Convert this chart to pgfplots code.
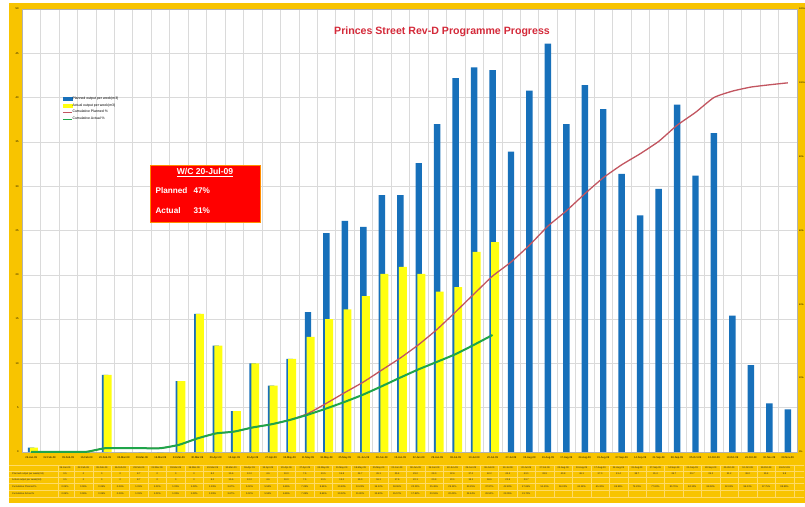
\documentclass[border=0pt]{standalone}
\usepackage{fontspec}
\setmainfont{Liberation Sans}
\usepackage{pgfplots}
\pgfplotsset{compat=1.18}
\usepackage{pgfplotstable}

\definecolor{gold}{HTML}{F8C400}
\definecolor{goldline}{HTML}{FFDB66}
\definecolor{xlblue}{HTML}{1770BA}
\definecolor{xlyellow}{HTML}{FFFF10}
\definecolor{xlred}{HTML}{C25560}
\definecolor{xlgreen}{HTML}{1FA54A}
\definecolor{gridc}{HTML}{DADADA}
\definecolor{titlered}{HTML}{D42A3A}
\definecolor{boxred}{HTML}{FF0000}
\definecolor{boxedge}{HTML}{FF8C00}

\pgfplotstableread{
i date planned actual cumplan cumact
0 26-Jan-09 0.5 0.5 0.06 0.06
1 02-Feb-09 0 0 0.06 0.06
2 09-Feb-09 0 0 0.06 0.06
3 16-Feb-09 0 0 0.06 0.06
4 23-Feb-09 8.7 8.7 1.03 1.03
5 02-Mar-09 0 0 1.03 1.03
6 09-Mar-09 0 0 1.03 1.03
7 16-Mar-09 0 0 1.03 1.03
8 23-Mar-09 8.0 8.0 1.93 1.93
9 30-Mar-09 15.6 15.6 3.67 3.67
10 06-Apr-09 12.0 12.0 5.02 5.02
11 13-Apr-09 4.6 4.6 5.53 5.53
12 20-Apr-09 10.0 10.0 6.65 6.65
13 27-Apr-09 7.5 7.5 7.49 7.49
14 04-May-09 10.5 10.5 8.66 8.66
15 11-May-09 15.8 13.0 10.43 10.12
16 18-May-09 24.7 15.0 13.20 11.80
17 25-May-09 26.1 16.1 16.12 13.60
18 01-Jun-09 25.4 17.6 18.96 15.57
19 08-Jun-09 29.0 20.1 22.21 17.82
20 15-Jun-09 29.0 20.9 25.46 20.16
21 22-Jun-09 32.6 20.1 29.11 22.41
22 29-Jun-09 37.0 18.1 33.25 24.44
23 06-Jul-09 42.2 18.6 37.97 26.52
24 13-Jul-09 43.4 22.6 42.83 29.05
25 20-Jul-09 43.1 23.7 47.65 31.70
26 27-Jul-09 33.9 nan 51.45 nan
27 03-Aug-09 40.8 nan 56.02 nan
28 10-Aug-09 46.1 nan 61.18 nan
29 17-Aug-09 37.0 nan 65.32 nan
30 24-Aug-09 41.4 nan 69.95 nan
31 31-Aug-09 38.7 nan 74.29 nan
32 07-Sep-09 31.4 nan 77.80 nan
33 14-Sep-09 26.7 nan 80.79 nan
34 21-Sep-09 29.7 nan 84.12 nan
35 28-Sep-09 39.2 nan 88.50 nan
36 05-Oct-09 31.2 nan 92.00 nan
37 12-Oct-09 36.0 nan 96.03 nan
38 19-Oct-09 15.4 nan 97.75 nan
39 26-Oct-09 9.8 nan 98.85 nan
40 02-Nov-09 5.5 nan 99.46 nan
41 09-Nov-09 4.8 nan 100.00 nan
}\data

\begin{document}
\begin{tikzpicture}
\useasboundingbox (0pt,0pt) rectangle (805pt,506pt);
\fill[white] (0pt,0pt) rectangle (805pt,506pt);
\fill[gold] (9pt,3pt) rectangle (805pt,503pt);

% data table under the chart
\begin{scope}
\clip (0pt,0pt) rectangle (804pt,506pt);
\foreach \yy in {41,35,29,23,16,9}{\draw[goldline,line width=0.3pt] (9pt,\yy pt) -- (805pt,\yy pt);}
\draw[goldline,line width=0.3pt] (58pt,9pt) -- (58pt,41pt);
\tikzset{tab/.style={font=\fontsize{2.4}{2.8}\selectfont, inner sep=0pt, text=black!85}}
\node[tab,anchor=west] at (12pt,32pt) {Planned output per week(m3)};
\node[tab,anchor=west] at (12pt,26pt) {Actual output per week(m3)};
\node[tab,anchor=west] at (12pt,19.5pt) {Cumulative Planned \%};
\node[tab,anchor=west] at (12pt,12.5pt) {Cumulative Actual \%};
\foreach \j in {0,...,39}{
  \pgfmathsetmacro\xx{65+18.45*\j}
  \pgfmathsetmacro\xr{\xx+9.2}
  \draw[goldline,line width=0.3pt] (\xr pt,9pt) -- (\xr pt,41pt);
  \pgfplotstablegetelem{\j}{date}\of\data
  \node[tab] at (\xx pt,38pt) {\pgfplotsretval};
  \pgfplotstablegetelem{\j}{planned}\of\data
  \node[tab] at (\xx pt,32pt) {\pgfplotsretval};
  \pgfplotstablegetelem{\j}{cumplan}\of\data
  \node[tab] at (\xx pt,19.5pt) {\pgfplotsretval\%};
  \ifnum\j<26
    \pgfplotstablegetelem{\j}{actual}\of\data
    \node[tab] at (\xx pt,26pt) {\pgfplotsretval};
    \pgfplotstablegetelem{\j}{cumact}\of\data
    \node[tab] at (\xx pt,12.5pt) {\pgfplotsretval\%};
  \fi
}
\end{scope}

\begin{axis}[
  name=main,
  at={(22pt,54pt)}, anchor=south west,
  width=775pt, height=443pt, scale only axis,
  xmin=-0.5, xmax=41.5, ymin=0, ymax=50,
  axis background/.style={fill=white},
  xtick={0,...,41},
  xticklabels from table={\data}{date},
  minor xtick={-0.5,0.5,...,41.5},
  xminorgrids=true,
  ytick={0,5,...,50},
  ymajorgrids=true,
  grid style={gridc, line width=0.5pt},
  minor grid style={gridc, line width=0.5pt},
  axis line style={gray!60, line width=0.4pt},
  xtick style={draw=none}, ytick style={draw=none},
  minor tick style={draw=none},
  tick label style={font=\fontsize{2.6}{3}\selectfont},
  xticklabel style={yshift=-1pt},
  /pgf/number format/assume math mode=true,
]
\addplot[ybar, bar width=0.35, bar shift=0, fill=xlblue, draw=none]
  table[x=i, y=planned]{\data};
\addplot[ybar, bar width=0.43, bar shift=0.14, fill=xlyellow, draw=none]
  table[x=i, y=actual]{\data};
\end{axis}

\begin{axis}[
  at={(main.south west)}, anchor=south west,
  width=775pt, height=443pt, scale only axis,
  xmin=-0.5, xmax=41.5, ymin=0, ymax=120,
  axis x line=none, axis y line*=right,
  axis line style={gray!60, line width=0.4pt},
  ytick={0,20,...,120},
  yticklabel={\pgfmathprintnumber{\tick}\%},
  ytick style={draw=none},
  tick label style={font=\fontsize{2.3}{3}\selectfont},
  yticklabel style={xshift=-1.5pt},
  /pgf/number format/assume math mode=true,
  legend style={at={(0.052,0.803)}, anchor=north west, draw=none, fill=none,
    font=\fontsize{3.5}{4}\selectfont, inner sep=0pt, row sep=1.6pt,
    nodes={inner sep=0.5pt, anchor=west}},
  legend cell align=left,
]
\addlegendimage{legend image code/.code={\fill[xlblue] (0pt,-1.3pt) rectangle (9pt,1.3pt);}}
\addlegendentry{Planned output per week(m3)}
\addlegendimage{legend image code/.code={\fill[xlyellow] (0pt,-1.3pt) rectangle (9pt,1.3pt);}}
\addlegendentry{Actual output per week(m3)}
\addplot[xlred, line width=1.3pt, smooth, tension=0.3,
  legend image code/.code={\draw[xlred,line width=0.5pt] (0pt,0pt) -- (9pt,0pt);}]
  table[x=i, y=cumplan]{\data};
\addlegendentry{Cumulative Planned \%}
\addplot[xlgreen, line width=2pt, smooth, tension=0.3,
  legend image code/.code={\draw[xlgreen,line width=0.5pt] (0pt,0pt) -- (9pt,0pt);}]
  table[x=i, y=cumact]{\data};
\addlegendentry{Cumulative Actual \%}
\end{axis}

% title
\node[text=titlered, font=\fontsize{10.6}{12}\selectfont\bfseries] at (442pt,474pt)
  {Princes Street Rev-D Programme Progress};

% status box
\draw[fill=boxred, draw=boxedge, line width=0.6pt] (150pt,284pt) rectangle (260pt,341pt);
\node[text=white, font=\fontsize{8.6}{10}\selectfont\bfseries] at (205pt,333.5pt)
  {\underline{W/C 20-Jul-09}};
\node[text=white, font=\fontsize{8.2}{10}\selectfont\bfseries, anchor=west] at (152pt,315.5pt) {Planned};
\node[text=white, font=\fontsize{8.2}{10}\selectfont\bfseries, anchor=west] at (190pt,315.5pt) {47\%};
\node[text=white, font=\fontsize{8.2}{10}\selectfont\bfseries, anchor=west] at (152pt,295pt) {Actual};
\node[text=white, font=\fontsize{8.2}{10}\selectfont\bfseries, anchor=west] at (190pt,295pt) {31\%};
\end{tikzpicture}
\end{document}
